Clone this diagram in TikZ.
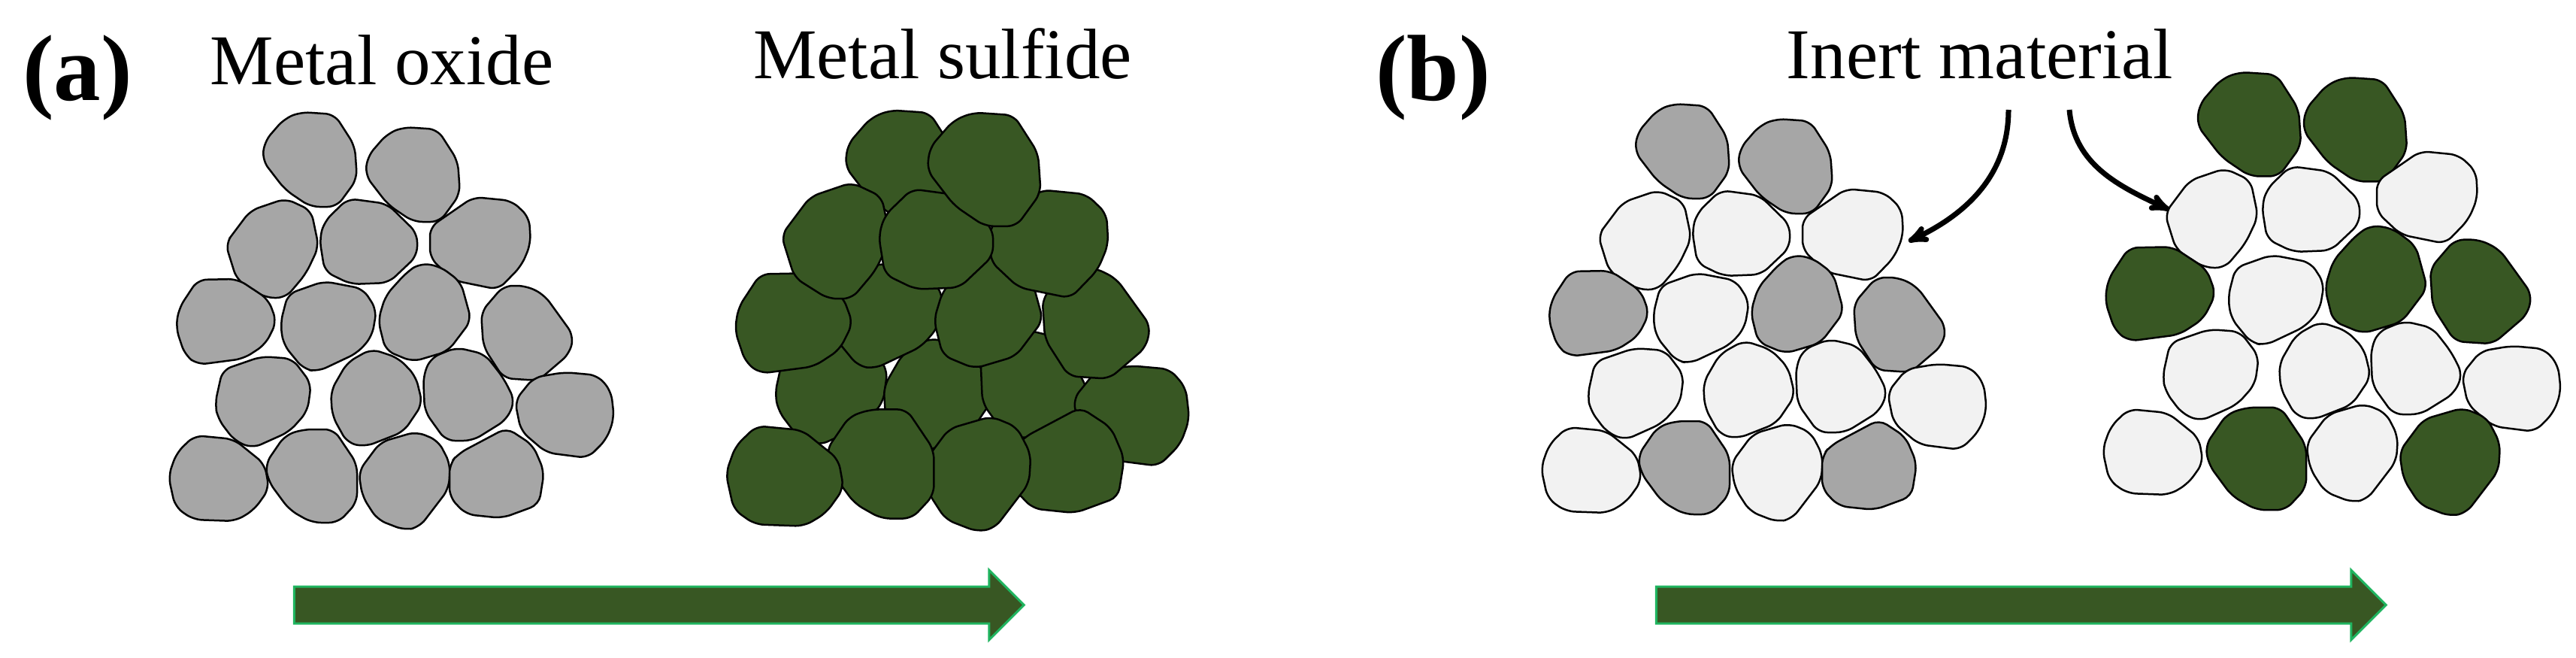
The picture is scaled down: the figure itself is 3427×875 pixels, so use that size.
\documentclass[tikz,border=0pt]{standalone}
\usepackage{fontspec}
\setmainfont{Liberation Serif}
\usetikzlibrary{arrows,shapes.arrows}

\definecolor{oxidegray}{HTML}{A6A6A6}
\definecolor{sulfidegreen}{HTML}{385723}
\definecolor{inertwhite}{HTML}{F2F2F2}
\definecolor{arrowedge}{HTML}{1FB45F}

\tikzset{
  grain/.style={pic actions,rounded corners=12pt},
  grain1/.pic={\path[grain] (-12,-62) -- (33,-59) -- (60,-17) -- (63,27) -- (36,64) -- (1,64) -- (-33,41) -- (-63,2) -- (-60,-23) -- (-34,-53) -- cycle;},
  grain3/.pic={\path[grain] (-29,-50) -- (18,-66) -- (52,-50) -- (62,-2) -- (45,34) -- (18,66) -- (-9,66) -- (-47,42) -- (-62,-6) -- (-50,-22) -- cycle;},
  grain4/.pic={\path[grain] (-27,-57) -- (25,-50) -- (65,-11) -- (65,19) -- (27,55) -- (-23,57) -- (-58,40) -- (-65,-4) -- (-58,-27) -- cycle;},
  grain5/.pic={\path[grain] (-9,-62) -- (42,-57) -- (65,-35) -- (67,0) -- (55,29) -- (24,61) -- (-35,49) -- (-67,19) -- (-67,-22) -- cycle;},
  grain6/.pic={\path[grain] (-38,-56) -- (15,-57) -- (56,-30) -- (67,0) -- (52,30) -- (23,49) -- (-38,57) -- (-55,44) -- (-67,8) -- (-63,-18) -- cycle;},
  grain7/.pic={\path[grain] (-54,-43) -- (-6,-60) -- (46,-50) -- (64,-22) -- (58,13) -- (39,35) -- (-14,60) -- (-33,57) -- (-60,24) -- (-64,-4) -- cycle;},
  grain8/.pic={\path[grain] (-6,-66) -- (20,-62) -- (48,-41) -- (62,10) -- (31,51) -- (-16,65) -- (-52,50) -- (-62,10) -- (-52,-23) -- (-24,-54) -- cycle;},
  grain9/.pic={\path[grain] (-31,-63) -- (-1,-63) -- (23,-51) -- (62,3) -- (57,27) -- (15,63) -- (-31,60) -- (-58,18) -- (-61,-28) -- cycle;},
  grain10/.pic={\path[grain] (-55,-43) -- (-3,-61) -- (38,-58) -- (63,-25) -- (58,12) -- (34,39) -- (-15,61) -- (-39,51) -- (-61,22) -- (-65,2) -- cycle;},
  grain11/.pic={\path[grain] (-7,-65) -- (29,-53) -- (52,-29) -- (61,8) -- (36,45) -- (-15,65) -- (-39,60) -- (-59,24) -- (-61,-9) -- (-39,-47) -- cycle;},
  grain12/.pic={\path[grain] (-17,-62) -- (21,-53) -- (46,-21) -- (61,9) -- (50,34) -- (5,62) -- (-31,62) -- (-59,23) -- (-61,-24) -- (-51,-48) -- cycle;},
  grain13/.pic={\path[grain] (-41,-50) -- (0,-57) -- (44,-53) -- (62,-32) -- (66,4) -- (56,32) -- (31,57) -- (-24,50) -- (-58,21) -- (-66,-19) -- cycle;},
  grain14/.pic={\path[grain] (-32,-57) -- (20,-52) -- (61,-19) -- (67,14) -- (47,42) -- (22,57) -- (-34,55) -- (-58,38) -- (-67,-3) -- (-56,-34) -- cycle;},
  grain15/.pic={\path[grain] (-35,-54) -- (-11,-62) -- (30,-62) -- (61,-16) -- (61,35) -- (36,62) -- (1,62) -- (-29,45) -- (-57,7) -- (-61,-16) -- cycle;},
  grain16/.pic={\path[grain] (-32,-52) -- (16,-66) -- (45,-54) -- (61,-23) -- (59,10) -- (20,61) -- (0,65) -- (-36,51) -- (-56,20) -- (-61,-13) -- cycle;},
  grain17/.pic={\path[grain] (-51,-26) -- (13,-60) -- (48,-37) -- (63,-2) -- (56,42) -- (7,60) -- (-41,55) -- (-63,32) -- (-63,-12) -- cycle;},
  oxide/.style={fill=oxidegray,draw=black,line width=2.5pt},
  sulfide/.style={fill=sulfidegreen,draw=black,line width=2.5pt},
  inert/.style={fill=inertwhite,draw=black,line width=2.5pt},
  label text/.style={inner sep=0pt,anchor=base,font=\fontsize{95}{100}\selectfont},
  panel text/.style={inner sep=0pt,anchor=base west,font=\fontsize{125}{130}\selectfont\bfseries},
  reaction arrow/.style={single arrow,draw=arrowedge,fill=sulfidegreen,line width=3pt,inner sep=0pt,inner ysep=23pt,outer sep=0pt,single arrow head extend=22pt,single arrow tip angle=90,single arrow head indent=0pt,minimum height=971pt},
  inert arrow/.style={->,>=stealth',line width=7pt}
}

\begin{document}
\begin{tikzpicture}[x=1pt,y=-1pt]
  \useasboundingbox (0,0) rectangle (3427,875);

  \node[panel text] (panela) at (30,133) {(a)};
  \node[panel text] (panelb) at (1830,133) {(b)};
  \node[label text] (oxidelabel) at (508,112) {Metal oxide};
  \node[label text] (sulfidelabel) at (1254,104) {Metal sulfide};
  \node[label text] (inertlabel) at (2634,104) {Inert material};

  % metal oxide
  \pic[oxide] at (412,211) {grain1};
  \pic[oxide] at (549,231) {grain1};
  \pic[oxide] at (362,330) {grain3};
  \pic[oxide] at (490,321) {grain4};
  \pic[oxide] at (639,324) {grain5};
  \pic[oxide] at (301,428) {grain6};
  \pic[oxide] at (437,434) {grain7};
  \pic[oxide] at (565,416) {grain8};
  \pic[oxide] at (701,443) {grain9};
  \pic[oxide] at (351,535) {grain10};
  \pic[oxide] at (501,529) {grain11};
  \pic[oxide] at (624,524) {grain12};
  \pic[oxide] at (751,552) {grain13};
  \pic[oxide] at (291,636) {grain14};
  \pic[oxide] at (414,633) {grain15};
  \pic[oxide] at (538,640) {grain16};
  \pic[oxide] at (661,629) {grain17};

  % metal sulfide
  \pic[sulfide,scale=1.17] at (1198,219) {grain1};
  \pic[sulfide,scale=1.17] at (1107,521) {grain10};
  \pic[sulfide,scale=1.17] at (1247,525) {grain11};
  \pic[sulfide,scale=1.17] at (1376,509) {grain12};
  \pic[sulfide,scale=1.17] at (1505,553) {grain13};
  \pic[sulfide,scale=1.17] at (1422,612) {grain17};
  \pic[sulfide,scale=1.17] at (1300,631) {grain16};
  \pic[sulfide,scale=1.17] at (1171,617) {grain15};
  \pic[sulfide,scale=1.17] at (1044,633) {grain14};
  \pic[sulfide,scale=1.17] at (1180,420) {grain7};
  \pic[sulfide,scale=1.17] at (1315,414) {grain8};
  \pic[sulfide,scale=1.17] at (1458,430) {grain9};
  \pic[sulfide,scale=1.17] at (1056,430) {grain6};
  \pic[sulfide,scale=1.17] at (1396,325) {grain5};
  \pic[sulfide,scale=1.17] at (1112,320) {grain3};
  \pic[sulfide,scale=1.17] at (1245,318) {grain4};
  \pic[sulfide,scale=1.2] at (1309,224) {grain1};

  % inert with metal oxide
  \pic[oxide] at (2238,200) {grain1};
  \pic[oxide] at (2375,220) {grain1};
  \pic[inert] at (2188,319) {grain3};
  \pic[inert] at (2316,310) {grain4};
  \pic[inert] at (2465,313) {grain5};
  \pic[oxide] at (2127,417) {grain6};
  \pic[inert] at (2263,423) {grain7};
  \pic[oxide] at (2391,405) {grain8};
  \pic[oxide] at (2527,432) {grain9};
  \pic[inert] at (2177,524) {grain10};
  \pic[inert] at (2327,518) {grain11};
  \pic[inert] at (2450,513) {grain12};
  \pic[inert] at (2577,541) {grain13};
  \pic[inert] at (2117,625) {grain14};
  \pic[oxide] at (2240,622) {grain15};
  \pic[inert] at (2364,629) {grain16};
  \pic[oxide] at (2487,618) {grain17};

  % inert with metal sulfide
  \pic[sulfide,scale=1.1] at (2992,164) {grain1};
  \pic[sulfide,scale=1.1] at (3133,171) {grain1};
  \pic[inert] at (2942,290) {grain3};
  \pic[inert] at (3074,278) {grain4};
  \pic[inert] at (3229,263) {grain5};
  \pic[sulfide,scale=1.1] at (2874,391) {grain6};
  \pic[inert] at (3028,399) {grain7};
  \pic[sulfide,scale=1.1] at (3161,372) {grain8};
  \pic[sulfide,scale=1.1] at (3300,388) {grain9};
  \pic[inert] at (2942,499) {grain10};
  \pic[inert] at (3093,493) {grain11};
  \pic[inert] at (3215,489) {grain12};
  \pic[inert] at (3341,517) {grain13};
  \pic[inert] at (2864,601) {grain14};
  \pic[sulfide,scale=1.1] at (3001,610) {grain15};
  \pic[inert] at (3129,603) {grain16};
  \pic[sulfide,scale=1.1] at (3259,615) {grain16};

  \node[reaction arrow] (arrowa) at (864.5,804.5) {};
  \node[reaction arrow] (arrowb) at (2676.5,804.5) {};

  \coordinate (inertleft) at (2672,146);
  \coordinate (inertright) at (2753,146);
  \coordinate (oxidegrain) at (2539,321);
  \coordinate (sulfidegrain) at (2886,279);
  \path[inert arrow] (inertleft) edge[out=-90,in=25] (oxidegrain)
        (inertright) edge[out=-85,in=155] (sulfidegrain);
\end{tikzpicture}
\end{document}
